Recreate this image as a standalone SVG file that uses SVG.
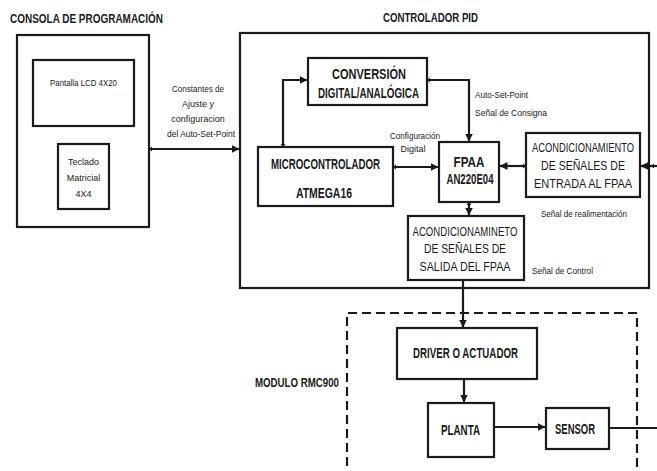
<svg xmlns="http://www.w3.org/2000/svg" width="657" height="471" viewBox="0 0 657 471">
<style>
.box{fill:#fff;stroke:#1a1a1a;stroke-width:2.2}
.ln{fill:none;stroke:#1a1a1a;stroke-width:2.2}
.dash{fill:none;stroke:#1a1a1a;stroke-width:2.2;stroke-dasharray:9 5}
text{font-family:"Liberation Sans",Arial,sans-serif;fill:#1a1a1a}
.t{font-size:12px;font-weight:bold}
.b{font-size:14px;font-weight:bold;text-anchor:middle}
.r{font-size:10.4px;text-anchor:middle}
.s{font-size:9px}
.sm{font-size:9px;text-anchor:middle}
</style>
<defs>
<marker id="ah" markerWidth="9" markerHeight="9" refX="7.5" refY="4.5" orient="auto" markerUnits="userSpaceOnUse">
<path d="M0,0.5 L8,4.5 L0,8.5 Z" fill="#1a1a1a"/>
</marker>
<marker id="tl" markerWidth="4" markerHeight="6" refX="1" refY="3" orient="auto" markerUnits="userSpaceOnUse">
<path d="M0,3 L3,0.5 L3,5.5 Z" fill="#1a1a1a"/>
</marker>
</defs>

<text class="t" x="10" y="23" textLength="153" lengthAdjust="spacingAndGlyphs">CONSOLA DE PROGRAMACIÓN</text>
<text class="t" x="383" y="22" textLength="95" lengthAdjust="spacingAndGlyphs">CONTROLADOR PID</text>
<text class="t" x="255" y="387" textLength="84" lengthAdjust="spacingAndGlyphs">MODULO RMC900</text>

<g id="consola">
<rect class="box" x="17" y="35" width="132" height="192"/>
</g>
<g id="lcd">
<rect class="box" x="33" y="60" width="101" height="66"/>
<text class="s" x="50" y="86" textLength="67" lengthAdjust="spacingAndGlyphs">Pantalla LCD 4X20</text>
</g>
<g id="teclado">
<rect class="box" x="58" y="144" width="51" height="65"/>
<text class="sm" x="83.5" y="165">Teclado</text>
<text class="sm" x="83.5" y="181">Matricial</text>
<text class="sm" x="83.5" y="197">4X4</text>
</g>

<g id="pid">
<rect class="box" x="240" y="33" width="409" height="255"/>
</g>
<g id="dac">
<rect class="box" x="308" y="58" width="119" height="47"/>
<text class="b" x="369" y="79" textLength="74" lengthAdjust="spacingAndGlyphs">CONVERSIÓN</text>
<text class="b" x="368.5" y="98" textLength="101" lengthAdjust="spacingAndGlyphs">DIGITAL/ANALÓGICA</text>
</g>
<g id="micro">
<rect class="box" x="258" y="147" width="135" height="59"/>
<text class="b" x="325.5" y="169" textLength="109" lengthAdjust="spacingAndGlyphs">MICROCONTROLADOR</text>
<text class="b" x="324" y="198" textLength="56" lengthAdjust="spacingAndGlyphs">ATMEGA16</text>
</g>
<g id="fpaa">
<rect class="box" x="439" y="142" width="60" height="60"/>
<text class="b" x="469" y="167" textLength="31" lengthAdjust="spacingAndGlyphs">FPAA</text>
<text class="b" x="470" y="184" textLength="47" lengthAdjust="spacingAndGlyphs">AN220E04</text>
</g>
<g id="acond-entrada">
<rect class="box" x="526" y="133" width="114" height="64"/>
<text class="r" transform="translate(583 152) scale(1 1.25)" x="0" y="0" textLength="102" lengthAdjust="spacingAndGlyphs">ACONDICIONAMIENTO</text>
<text class="r" transform="translate(583 170) scale(1 1.25)" x="0" y="0" textLength="84" lengthAdjust="spacingAndGlyphs">DE SEÑALES DE</text>
<text class="r" transform="translate(583 188) scale(1 1.25)" x="0" y="0" textLength="98" lengthAdjust="spacingAndGlyphs">ENTRADA AL FPAA</text>
</g>
<g id="acond-salida">
<rect class="box" x="408" y="216" width="116" height="64"/>
<text class="r" transform="translate(465 236) scale(1 1.25)" x="0" y="0" textLength="105" lengthAdjust="spacingAndGlyphs">ACONDICIONAMINETO</text>
<text class="r" transform="translate(465 253) scale(1 1.25)" x="0" y="0" textLength="82" lengthAdjust="spacingAndGlyphs">DE SEÑALES DE</text>
<text class="r" transform="translate(465 271) scale(1 1.25)" x="0" y="0" textLength="91" lengthAdjust="spacingAndGlyphs">SALIDA DEL FPAA</text>
</g>

<g id="modulo">
<path class="dash" d="M347,480 V313 H637 V480"/>
</g>
<g id="driver">
<rect class="box" x="397" y="328" width="140" height="51"/>
<text class="b" x="465.5" y="358" textLength="105" lengthAdjust="spacingAndGlyphs">DRIVER O ACTUADOR</text>
</g>
<g id="planta">
<rect class="box" x="428" y="403" width="66" height="54"/>
<text class="b" x="460.5" y="435" textLength="39" lengthAdjust="spacingAndGlyphs">PLANTA</text>
</g>
<g id="sensor">
<rect class="box" x="546" y="408" width="63" height="41"/>
<text class="b" x="575" y="434" textLength="40" lengthAdjust="spacingAndGlyphs">SENSOR</text>
</g>

<g id="connectors">
<path class="ln" d="M150,149 H239" marker-start="url(#tl)" marker-end="url(#ah)"/>
<path class="ln" d="M283,146 V80 H307" marker-start="url(#tl)" marker-end="url(#ah)"/>
<path class="ln" d="M428,80 H469 V141" marker-start="url(#tl)" marker-end="url(#ah)"/>
<path class="ln" d="M394,167 H438" marker-start="url(#tl)" marker-end="url(#ah)"/>
<path class="ln" d="M525,166 H500" marker-start="url(#tl)" marker-end="url(#ah)"/>
<path class="ln" d="M657,166 H641" marker-end="url(#ah)"/>
<path d="M651,166 L654,163.5 L654,168.5 Z" fill="#1a1a1a"/>
<path class="ln" d="M469,203 V215" marker-start="url(#tl)" marker-end="url(#ah)"/>
<path class="ln" d="M463,281 V327" marker-end="url(#ah)"/>
<path class="ln" d="M464,380 V402" marker-end="url(#ah)"/>
<path class="ln" d="M495,427 H545" marker-end="url(#ah)"/>
<path class="ln" d="M610,428 H657"/>
</g>

<g id="labels">
<text class="sm" x="198" y="92" textLength="52" lengthAdjust="spacingAndGlyphs">Constantes de</text>
<text class="sm" x="198" y="107">Ajuste y</text>
<text class="sm" x="198" y="122">configuracion</text>
<text class="sm" x="201" y="137" textLength="68" lengthAdjust="spacingAndGlyphs">del Auto-Set-Point</text>
<text class="s" x="475" y="98" textLength="53" lengthAdjust="spacingAndGlyphs">Auto-Set-Point</text>
<text class="s" x="475" y="116" textLength="72" lengthAdjust="spacingAndGlyphs">Señal de Consigna</text>
<text class="sm" x="415" y="139" textLength="50" lengthAdjust="spacingAndGlyphs">Configuración</text>
<text class="sm" x="413" y="152">Digital</text>
<text class="s" x="541" y="217" textLength="86" lengthAdjust="spacingAndGlyphs">Señal de realimentación</text>
<text class="s" x="532" y="274" textLength="61" lengthAdjust="spacingAndGlyphs">Señal de Control</text>
</g>
</svg>
